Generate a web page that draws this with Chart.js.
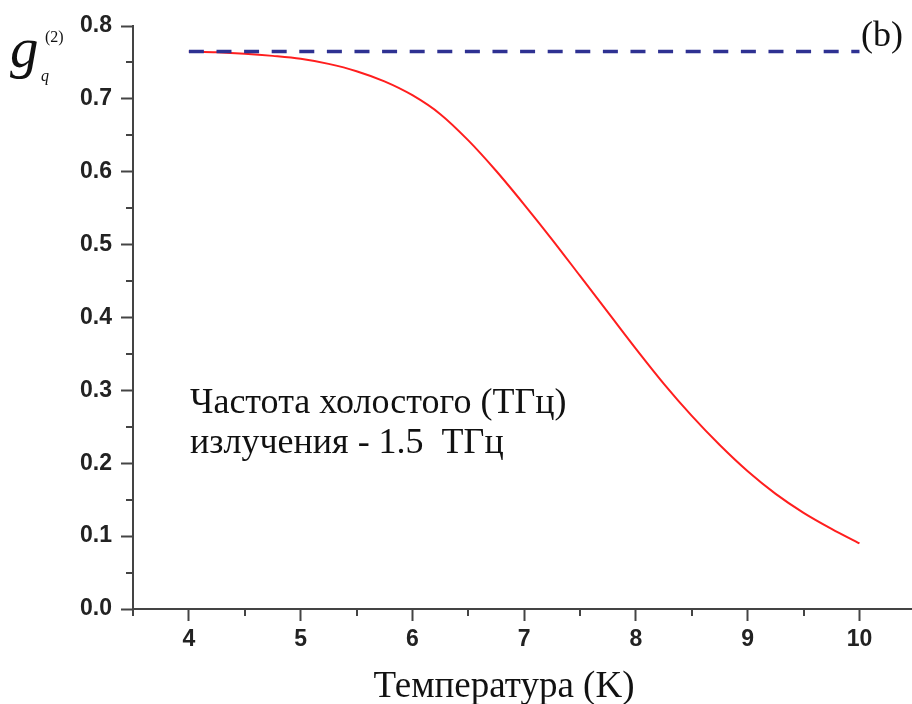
<!DOCTYPE html>
<html>
<head>
<meta charset="utf-8">
<title>g2 vs temperature</title>
<script src="https://cdn.jsdelivr.net/npm/chart.js@4/dist/chart.umd.min.js"></script>
<style>
  html, body { margin: 0; padding: 0; background: #fff; overflow: hidden; }
  #wrap { width: 912px; height: 704px; }
</style>
</head>
<body>
<div id="wrap"><canvas id="g2Chart" width="912" height="704"></canvas></div>
<script>
// temperature, K
const temperature = [4.0, 4.25, 4.5, 4.75, 5.0, 5.25, 5.5, 5.75, 6.0, 6.25, 6.5, 6.75, 7.0,
  7.25, 7.5, 7.75, 8.0, 8.25, 8.5, 8.75, 9.0, 9.25, 9.5, 9.75, 10.0];
// second order correlation g_q^(2)
const g2Values = [0.765, 0.764, 0.762, 0.759, 0.755, 0.748, 0.738, 0.724, 0.705, 0.679, 0.643, 0.601, 0.555,
  0.507, 0.457, 0.407, 0.357, 0.309, 0.265, 0.225, 0.189, 0.158, 0.132, 0.110, 0.090];
// low temperature limit (dashed)
const limitX = [4, 10];
const limitValue = 0.765;

const xTicks = [4, 5, 6, 7, 8, 9, 10];
const xMinorTicks = [3.5, 4.5, 5.5, 6.5, 7.5, 8.5, 9.5];
const yTicks = [0, 0.1, 0.2, 0.3, 0.4, 0.5, 0.6, 0.7, 0.8];
const yMinorTicks = [0.05, 0.15, 0.25, 0.35, 0.45, 0.55, 0.65, 0.75];

const AXIS_COLOR = '#444';
const LABEL_COLOR = '#222';
const tickFont = { family: 'Liberation Sans', weight: 'bold', size: 23 };

// short outward ticks between the labelled ones
const minorTicks = {
  id: 'minorTicks',
  afterDraw(chart) {
    const ctx = chart.ctx;
    const xs = chart.scales.x, ys = chart.scales.y;
    const area = chart.chartArea;
    ctx.save();
    ctx.strokeStyle = AXIS_COLOR;
    ctx.lineWidth = 2;
    ctx.beginPath();
    xMinorTicks.forEach(v => {
      const px = Math.round(xs.getPixelForValue(v));
      ctx.moveTo(px, area.bottom);
      ctx.lineTo(px, area.bottom + 7);
    });
    yMinorTicks.forEach(v => {
      const py = Math.round(ys.getPixelForValue(v));
      ctx.moveTo(area.left, py);
      ctx.lineTo(area.left - 7, py);
    });
    ctx.stroke();
    ctx.restore();
  }
};

// axis titles and the note inside the plot
const textLayer = {
  id: 'textLayer',
  afterDraw(chart) {
    const ctx = chart.ctx;
    ctx.save();
    ctx.fillStyle = '#111';
    ctx.textBaseline = 'alphabetic';
    ctx.textAlign = 'left';

    // y title: g with sub q and sup (2)
    ctx.font = 'italic 57px "Liberation Serif"';
    ctx.fillText('g', 10, 67);
    ctx.font = 'italic 16px "Liberation Serif"';
    ctx.fillText('q', 41, 81);
    ctx.font = '16px "Liberation Serif"';
    ctx.fillText('(2)', 45, 42);

    // panel letter
    ctx.font = '36px "Liberation Serif"';
    ctx.fillText('(b)', 861, 46);

    // note
    ctx.font = '36px "Liberation Serif"';
    ctx.fillText('Частота холостого (ТГц)', 190, 413);
    ctx.fillText('излучения - 1.5  ТГц', 190, 453);

    // x title
    ctx.font = '37px "Liberation Serif"';
    ctx.textAlign = 'center';
    ctx.fillText('Температура (K)', 504, 697);
    ctx.restore();
  }
};

new Chart(document.getElementById('g2Chart'), {
  type: 'line',
  data: {
    datasets: [
      {
        data: limitX.map(x => ({ x: x, y: limitValue })),
        borderColor: '#2e3192',
        borderWidth: 3.5,
        borderDash: [15, 12.6],
        borderCapStyle: 'butt',
        pointRadius: 0,
        fill: false
      },
      {
        data: temperature.map((t, i) => ({ x: t, y: g2Values[i] })),
        borderColor: 'rgb(255, 30, 30)',
        borderWidth: 2,
        cubicInterpolationMode: 'monotone',
        pointRadius: 0,
        fill: false
      }
    ]
  },
  options: {
    responsive: false,
    animation: false,
    layout: { padding: { top: 26, right: 0, bottom: 0, left: 0 } },
    plugins: {
      legend: { display: false },
      tooltip: { enabled: false }
    },
    scales: {
      x: {
        type: 'linear',
        min: 3.5,
        max: 10.47,
        afterBuildTicks: s => { s.ticks = xTicks.map(v => ({ value: v })); },
        afterFit: s => { s.height = 95; },
        grid: { drawOnChartArea: false, tickLength: 12, tickColor: AXIS_COLOR, tickWidth: 2 },
        border: { color: AXIS_COLOR, width: 2 },
        ticks: { font: tickFont, color: LABEL_COLOR, padding: 5, maxRotation: 0, callback: v => v }
      },
      y: {
        min: 0,
        max: 0.8,
        afterBuildTicks: s => { s.ticks = yTicks.map(v => ({ value: v })); },
        afterFit: s => { s.width = 133; },
        grid: { drawOnChartArea: false, tickLength: 12, tickColor: AXIS_COLOR, tickWidth: 2 },
        border: { color: AXIS_COLOR, width: 2 },
        ticks: { font: tickFont, color: LABEL_COLOR, padding: 9, callback: v => v.toFixed(1) }
      }
    }
  },
  plugins: [minorTicks, textLayer]
});
</script>
</body>
</html>
